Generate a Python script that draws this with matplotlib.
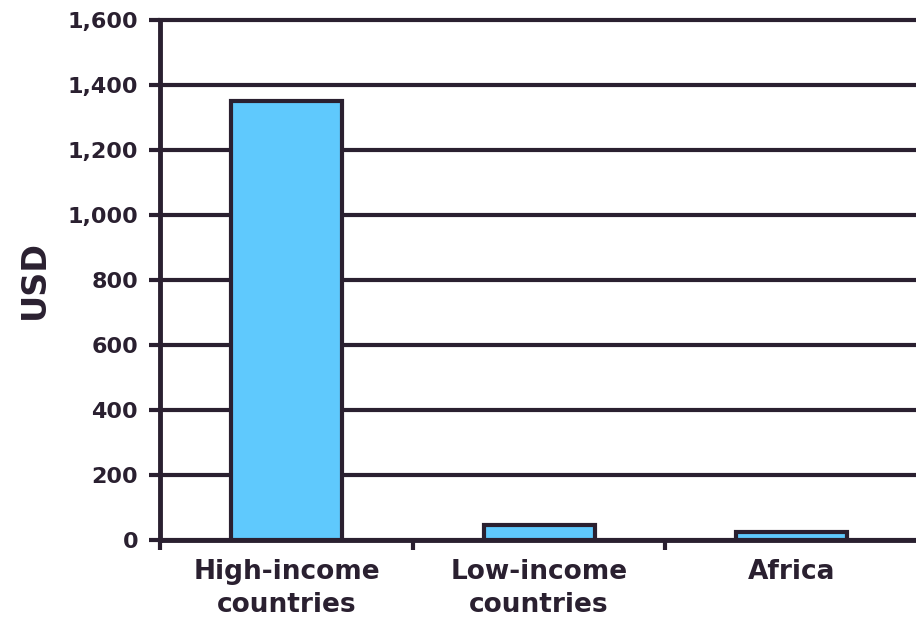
import matplotlib.pyplot as plt
import numpy as np

categories = ['High-income\ncountries', 'Low-income\ncountries', 'Africa']
usd = [1350, 45, 25]
y_ticks = [0, 200, 400, 600, 800, 1000, 1200, 1400, 1600]

line_col = '#2a2030'
bar_col = '#5fc9fd'

fig = plt.figure(figsize=(9.16, 6.22), dpi=100)
ax = fig.add_axes([0.175, 0.132, 0.827, 0.836])

x = np.arange(len(categories))
ax.bar(x, usd, width=0.44, color=bar_col, edgecolor=line_col, linewidth=3, zorder=3)

ax.set_xlim(-0.5, 2.5)
ax.set_ylim(0, 1600)
ax.set_yticks(y_ticks)
ax.set_yticklabels([f'{v:,}' for v in y_ticks])
ax.yaxis.grid(True, color=line_col, linewidth=3)
ax.set_axisbelow(True)
# keep the 1,600 line at full thickness on the top edge
for gl in ax.yaxis.get_gridlines():
    gl.set_clip_on(False)

# category names centred on the bars, tick marks between them
ax.set_xticks(x)
ax.set_xticklabels(categories)
ax.tick_params(axis='x', which='major', length=0, pad=14)
ax.set_xticks([-0.5, 0.5, 1.5], minor=True)
ax.tick_params(axis='x', which='minor', length=7, width=3, color=line_col)
ax.tick_params(axis='y', length=8, width=3, color=line_col, pad=8)

for lab in ax.get_xticklabels():
    lab.set_fontsize(19)
    lab.set_fontweight('bold')
    lab.set_color(line_col)
    lab.set_linespacing(1.35)
for lab in ax.get_yticklabels():
    lab.set_fontsize(16)
    lab.set_fontweight('bold')
    lab.set_color(line_col)

ax.set_ylabel('USD', fontsize=24, fontweight='bold', color=line_col, labelpad=12)

for side in ['top', 'right']:
    ax.spines[side].set_visible(False)
for side in ['left', 'bottom']:
    ax.spines[side].set_linewidth(3.5)
    ax.spines[side].set_color(line_col)

plt.savefig('out.png', dpi=100)
plt.close()
